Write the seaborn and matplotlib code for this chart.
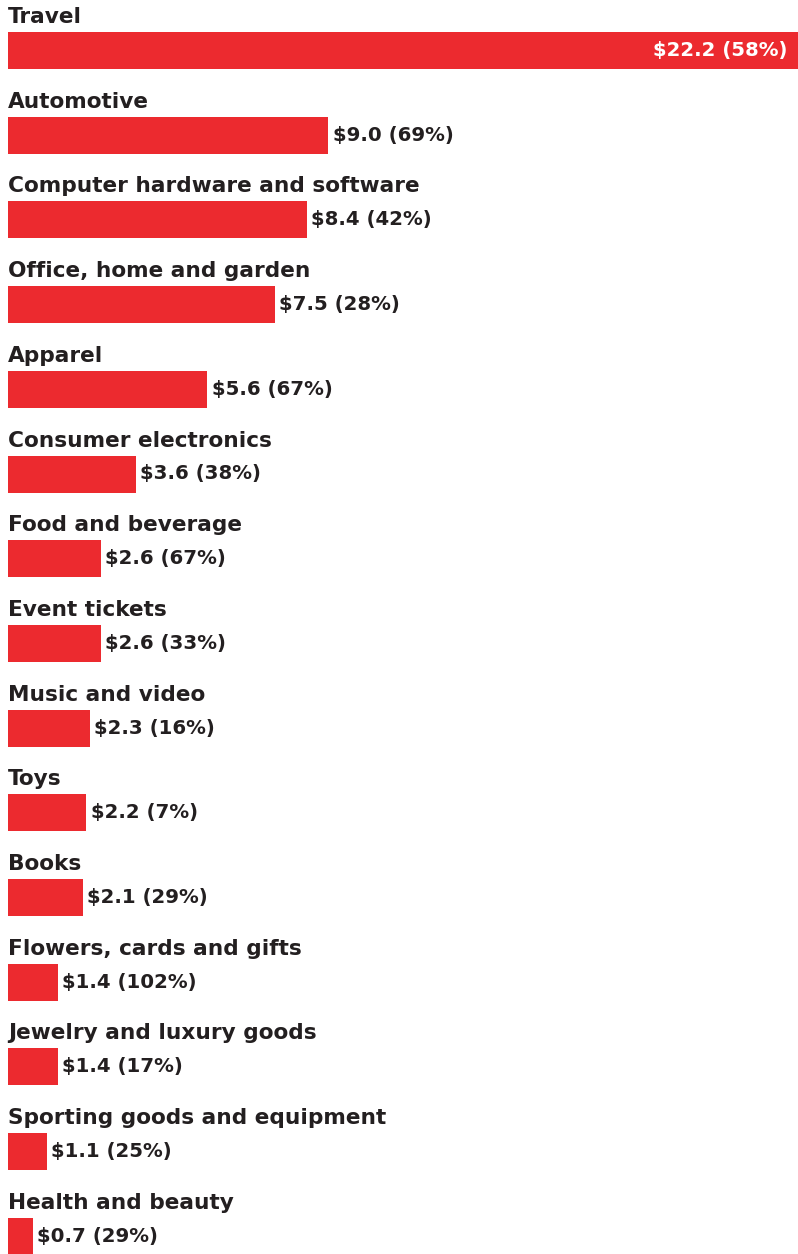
import matplotlib
matplotlib.use("Agg")
import matplotlib.pyplot as plt
import seaborn as sns
import pandas as pd

categories = [
    "Travel", "Automotive", "Computer hardware and software",
    "Office, home and garden", "Apparel", "Consumer electronics",
    "Food and beverage", "Event tickets", "Music and video", "Toys",
    "Books", "Flowers, cards and gifts", "Jewelry and luxury goods",
    "Sporting goods and equipment", "Health and beauty",
]
sales = [22.2, 9.0, 8.4, 7.5, 5.6, 3.6, 2.6, 2.6, 2.3, 2.2, 2.1, 1.4, 1.4, 1.1, 0.7]
growth = [58, 69, 42, 28, 67, 38, 67, 33, 16, 7, 29, 102, 17, 25, 29]

df = pd.DataFrame({"category": categories, "sales": sales})

sns.set_theme(style="white")
plt.rcParams["font.family"] = ["DejaVu Sans"]

RED = "#EC2A2F"
INK = "#231F20"
W, H = 798, 1254

fig = plt.figure(figsize=(W / 100, H / 100), dpi=100)
ax = fig.add_axes([8 / W, 0, 790 / W, 1])

pitch = 84.7
bar_h = 37 / pitch
sns.barplot(data=df, y="category", x="sales", orient="h", color=RED,
            saturation=1, width=bar_h, linewidth=0, ax=ax)

ax.set_xlim(0, max(sales))
top = -(32 + 37 / 2) / pitch
ax.set_ylim(top + H / pitch, top)
ax.axis("off")

for i, (cat, v, g) in enumerate(zip(categories, sales, growth)):
    ax.text(0, i - 0.324, cat, ha="left", va="baseline", fontsize=15.6,
            fontweight="bold", color=INK)
    label = f"${v:.1f} ({g}%)"
    if v == max(sales):
        ax.text(v - 0.3, i, label, ha="right", va="center", fontsize=14.2,
                fontweight="bold", color="white")
    else:
        ax.text(v + 0.12, i, label, ha="left", va="center", fontsize=14.2,
                fontweight="bold", color=INK)

fig.savefig("out.png", dpi=100)
